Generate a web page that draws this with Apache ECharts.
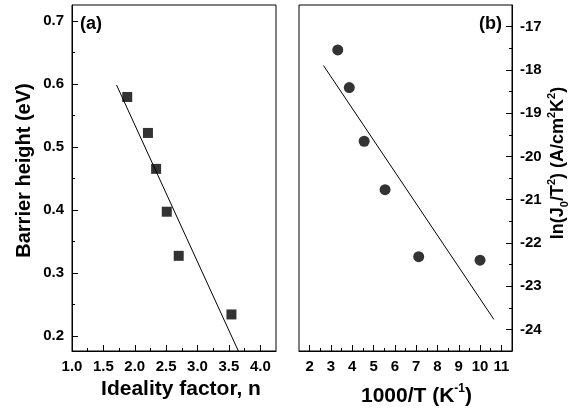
<!DOCTYPE html>
<html>
<head>
<meta charset="utf-8">
<script src="https://cdn.jsdelivr.net/npm/echarts@6/dist/echarts.min.js"></script>
<style>
    html, body { margin: 0; padding: 0; background: #fff; }
    #chart { width: 579px; height: 416px; }
</style>
</head>
<body>
<div id="chart"></div>
<script>
    // (a) barrier height vs ideality factor
    const idealityN = [1.88, 2.21, 2.34, 2.51, 2.70, 3.54];
    const barrierEv = [0.579, 0.522, 0.465, 0.397, 0.327, 0.234];
    const fitAX = [1.71, 3.65];
    const fitAY = [0.598, 0.176];

    // (b) Richardson plot
    const invTemp = [3.32, 3.86, 4.56, 5.54, 7.12, 10.0];
    const lnJT = [-17.54, -18.41, -19.65, -20.77, -22.32, -22.40];
    const fitBX = [2.65, 10.65];
    const fitBY = [-17.9, -23.77];

    // tick labels
    const aXTicks = [1.0, 1.5, 2.0, 2.5, 3.0, 3.5, 4.0];
    const aXMinor = [1.25, 1.75, 2.25, 2.75, 3.25, 3.75];
    const aYTicks = [0.2, 0.3, 0.4, 0.5, 0.6, 0.7];
    const aYMinor = [0.25, 0.35, 0.45, 0.55, 0.65];
    const bXTicks = [2, 3, 4, 5, 6, 7, 8, 9, 10, 11];
    const bXMinor = [2.5, 3.5, 4.5, 5.5, 6.5, 7.5, 8.5, 9.5, 10.5];
    const bYTicks = [-24, -23, -22, -21, -20, -19, -18, -17];
    const bYMinor = [-23.5, -22.5, -21.5, -20.5, -19.5, -18.5, -17.5];

    const FONT = 'Liberation Sans';
    const chart = echarts.init(document.getElementById('chart'));

    const labelStyle = { color: '#000', fontFamily: FONT, fontWeight: 'bold', fontSize: 15 };
    function nameStyle(size, sub, lineHeight) {
        return {
            color: '#000', fontFamily: FONT, fontWeight: 'bold', fontSize: size, lineHeight,
            rich: {
                sup: { fontFamily: FONT, fontWeight: 'bold', fontSize: sub, lineHeight: sub, verticalAlign: 'top', color: '#000' },
                sub: { fontFamily: FONT, fontWeight: 'bold', fontSize: sub, lineHeight: sub, verticalAlign: 'bottom', color: '#000' }
            }
        };
    }

    // main axis: line, major ticks, labels
    function mainAxis(opts) {
        return Object.assign({
            type: 'value',
            nameLocation: 'middle',
            axisLine: { show: true, lineStyle: { color: '#000', width: 1 } },
            axisTick: { show: true, inside: true, length: 6, lineStyle: { color: '#000' }, customValues: opts.ticks },
            axisLabel: { ...labelStyle, margin: 8, customValues: opts.ticks, formatter: opts.fmt },
            splitLine: { show: false }
        }, opts.extra);
    }

    // second axis only for the short minor ticks
    function minorAxis(gridIndex, min, max, ticks, position) {
        return {
            type: 'value', gridIndex, min, max, position,
            axisLine: { show: false },
            axisTick: { show: true, inside: true, length: 3, lineStyle: { color: '#000' }, customValues: ticks },
            axisLabel: { show: false },
            splitLine: { show: false }
        };
    }

    const option = {
        animation: false,
        backgroundColor: '#fff',
        title: [
            { text: '(a)', left: 80, top: 15, padding: 0, textStyle: { fontFamily: FONT, fontWeight: 'bold', fontSize: 18, color: '#000' } },
            { text: '(b)', right: 77, top: 15, padding: 0, textStyle: { fontFamily: FONT, fontWeight: 'bold', fontSize: 18, color: '#000' } }
        ],
        grid: [
            { left: 72, right: 303, top: 5, bottom: 65, show: true, borderColor: '#000', borderWidth: 1 },
            { left: 299, right: 67, top: 5, bottom: 65, show: true, borderColor: '#000', borderWidth: 1 }
        ],
        xAxis: [
            mainAxis({ ticks: aXTicks, fmt: v => v.toFixed(1), extra: {
                gridIndex: 0, min: 1.0, max: 4.25, position: 'bottom',
                name: 'Ideality factor, n', nameGap: 26,
                nameTextStyle: { ...nameStyle(21, 12), padding: [0, 0, 0, 14] }
            } }),
            mainAxis({ ticks: bXTicks, fmt: v => String(v), extra: {
                gridIndex: 1, min: 1.5, max: 11.5, position: 'bottom',
                name: '1000/T (K{sup|-1})', nameGap: 32,
                nameTextStyle: { ...nameStyle(21, 12, 27), padding: [0, 0, 0, 22] }
            } }),
            minorAxis(0, 1.0, 4.25, aXMinor, 'bottom'),
            minorAxis(1, 1.5, 11.5, bXMinor, 'bottom')
        ],
        yAxis: [
            mainAxis({ ticks: aYTicks, fmt: v => v.toFixed(1), extra: {
                gridIndex: 0, min: 0.176, max: 0.725, position: 'left',
                name: 'Barrier height (eV)', nameGap: 38, nameRotate: 90,
                nameTextStyle: { ...nameStyle(20, 12), padding: [0, 0, 0, 15] }
            } }),
            mainAxis({ ticks: bYTicks, fmt: v => String(v), extra: {
                gridIndex: 1, min: -24.5, max: -16.5, position: 'right',
                name: 'ln(J{sub|0}/T{sup|2}) (A/cm{sup|2}K{sup|2})', nameGap: 34, nameRotate: 90,
                nameTextStyle: { ...nameStyle(18, 11, 24), padding: [0, 0, 0, 30] }
            } }),
            minorAxis(0, 0.176, 0.725, aYMinor, 'left'),
            minorAxis(1, -24.5, -16.5, bYMinor, 'right')
        ],
        series: [
            {
                type: 'scatter', xAxisIndex: 0, yAxisIndex: 0,
                symbol: 'rect', symbolSize: 10,
                itemStyle: { color: '#000' },
                data: idealityN.map((n, i) => [n, barrierEv[i]])
            },
            {
                type: 'line', xAxisIndex: 0, yAxisIndex: 0,
                showSymbol: false, symbol: 'none',
                lineStyle: { color: '#000', width: 1 },
                data: fitAX.map((x, i) => [x, fitAY[i]])
            },
            {
                type: 'scatter', xAxisIndex: 1, yAxisIndex: 1,
                symbol: 'circle', symbolSize: 11,
                itemStyle: { color: '#000' },
                data: invTemp.map((x, i) => [x, lnJT[i]])
            },
            {
                type: 'line', xAxisIndex: 1, yAxisIndex: 1,
                showSymbol: false, symbol: 'none',
                lineStyle: { color: '#000', width: 1 },
                data: fitBX.map((x, i) => [x, fitBY[i]])
            }
        ]
    };

    chart.setOption(option);
</script>
</body>
</html>
